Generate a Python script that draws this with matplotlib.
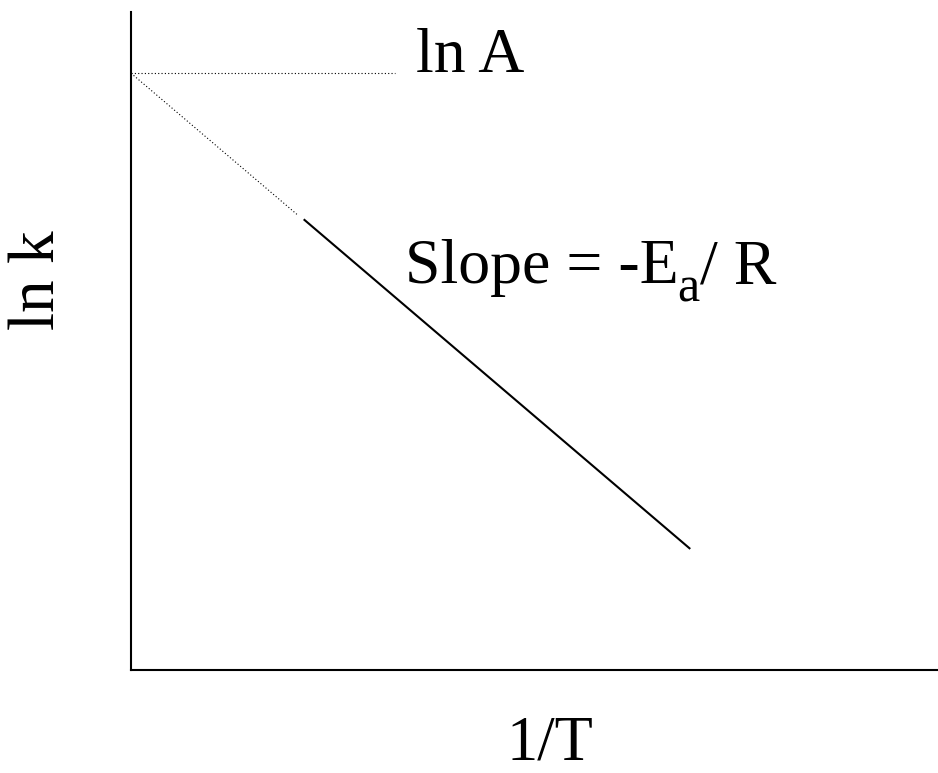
import matplotlib
matplotlib.use("Agg")
import matplotlib.pyplot as plt
from matplotlib.transforms import IdentityTransform

plt.rcParams['font.family'] = ['Liberation Serif', 'DejaVu Serif']

# Data (arbitrary axis units, x = 1/T, y = ln k)
intercept_x = [0.0, 32.7]          # horizontal dotted ln A guide
intercept_y = [90.7, 90.7]
extrap_x = [0.0, 20.7]             # dotted extrapolation to intercept
extrap_y = [90.7, 69.1]
data_x = [21.4, 69.3]              # measured (solid) line
data_y = [68.5, 18.4]

x_label = "1/T"
y_label = "ln k"
lnA_label = "ln A"
slope_main = "Slope = -E"
slope_sub = "a"
slope_tail = "/ R"

W, H = 938, 773
fig = plt.figure(figsize=(W / 100, H / 100), dpi=100)
ax = fig.add_axes([131 / W, (H - 670) / H, (W - 131) / W, (670 - 12) / H])
ax.set_xlim(0, 100)
ax.set_ylim(0, 100)

dot = (0, (1, 2))
ax.plot(intercept_x, intercept_y, color='black', lw=0.8, linestyle=dot)
ax.plot(extrap_x, extrap_y, color='black', lw=0.8, linestyle=dot)
ax.plot(data_x, data_y, color='black', lw=1.5, solid_capstyle='butt')

for s in ['top', 'right']:
    ax.spines[s].set_visible(False)
for s in ['left', 'bottom']:
    ax.spines[s].set_linewidth(1.5)
ax.set_xticks([])
ax.set_yticks([])

px = IdentityTransform()

fig.text(416, H - 72, lnA_label, fontsize=46, va='baseline', ha='left', transform=px)

t1 = fig.text(405, H - 283, slope_main, fontsize=46, va='baseline', ha='left', transform=px)
fig.canvas.draw()
r = fig.canvas.get_renderer()
bb1 = t1.get_window_extent(r)
t2 = fig.text(bb1.x1 - 1, H - 302, slope_sub, fontsize=36, va='baseline', ha='left', transform=px)
bb2 = t2.get_window_extent(r)
fig.text(bb2.x1, H - 283, slope_tail, fontsize=46, va='baseline', ha='left', transform=px)

fig.text(550, H - 760, x_label, fontsize=45, ha='center', va='baseline', transform=px)
fig.text(38.5, H - 280, y_label, fontsize=47, ha='center', va='center', rotation=90, transform=px)

fig.savefig("out.png", dpi=100)
